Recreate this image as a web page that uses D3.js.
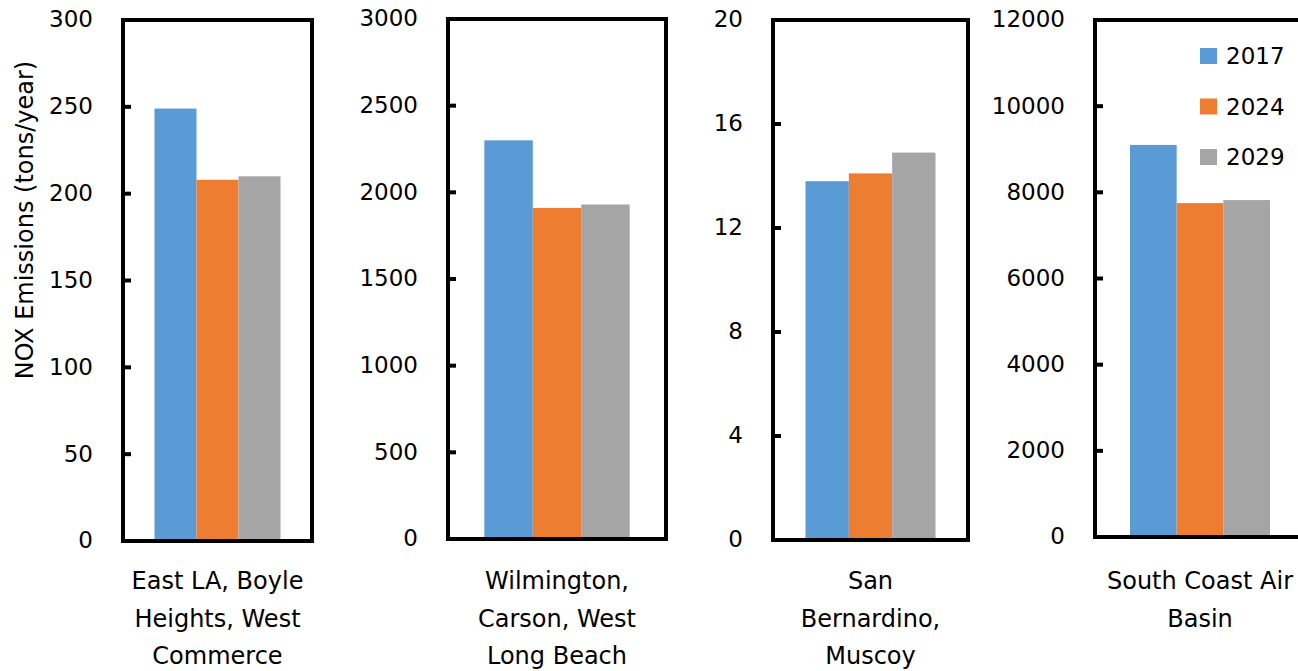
<!DOCTYPE html>
<html>
<head>
<meta charset="utf-8">
<script src="https://cdn.jsdelivr.net/npm/d3@7"></script>
<style>
  html, body { margin: 0; padding: 0; background: #fff; }
  svg { display: block; }
  text { font-family: "DejaVu Sans", sans-serif; fill: #000; }
</style>
</head>
<body>
<svg id="chart" width="1298" height="671"></svg>
<script>
// ---- data ----
const seriesNames = ["2017", "2024", "2029"];
const seriesColors = ["#5B9BD5", "#ED7D31", "#A5A5A5"];
const regionLabels = [
  ["East LA, Boyle", "Heights, West", "Commerce"],
  ["Wilmington,", "Carson, West", "Long Beach"],
  ["San", "Bernardino,", "Muscoy"],
  ["South Coast Air", "Basin"]
];
const values2017 = [249, 2300, 13.8, 9100];
const values2024 = [208, 1910, 14.1, 7750];
const values2029 = [210, 1930, 14.9, 7820];
const yMaxima = [300, 3000, 20, 12000];
const tickValues1 = [0, 50, 100, 150, 200, 250, 300];
const tickValues2 = [0, 500, 1000, 1500, 2000, 2500, 3000];
const tickValues3 = [0, 4, 8, 12, 16, 20];
const tickValues4 = [0, 2000, 4000, 6000, 8000, 10000, 12000];
const yTitle = "NOX Emissions (tons/year)";

// ---- layout ----
const panelLeft = [123, 448, 773, 1095];
const panelRight = [312, 666, 968, 1305];
const panelTop = [20, 19, 20, 20];
const panelBottom = [541, 539, 540, 537];
const tickSets = [tickValues1, tickValues2, tickValues3, tickValues4];
const seriesValues = [values2017, values2024, values2029];

const svg = d3.select("#chart");

regionLabels.forEach((lines, i) => {
  const g = svg.append("g");
  const x = d3.scaleBand().domain([i]).range([panelLeft[i], panelRight[i]]).padding(0.2);
  const xs = d3.scaleBand().domain(seriesNames).range([0, x.bandwidth()]).padding(0);
  const y = d3.scaleLinear().domain([0, yMaxima[i]]).range([panelBottom[i], panelTop[i]]);

  // bars
  g.selectAll("rect.bar")
    .data(seriesNames.map((s, k) => ({ s, v: seriesValues[k][i], c: seriesColors[k] })))
    .join("rect")
    .attr("class", "bar")
    .attr("x", d => x(i) + xs(d.s))
    .attr("y", d => y(d.v))
    .attr("width", xs.bandwidth())
    .attr("height", d => y(0) - y(d.v))
    .attr("fill", d => d.c);

  // y axis
  const axis = d3.axisLeft(y)
    .tickValues(tickSets[i])
    .tickFormat(d3.format("d"))
    .tickSizeInner(-8)
    .tickSizeOuter(0)
    .tickPadding(30)
    .offset(0);
  const ag = g.append("g").attr("transform", `translate(${panelLeft[i]},0)`).call(axis);
  ag.select(".domain").remove();
  ag.selectAll(".tick line")
    .attr("stroke", "#000").attr("stroke-width", 4)
    .attr("display", d => (d === 0 || d === yMaxima[i]) ? "none" : null);
  ag.selectAll(".tick text")
    .style("font-family", "DejaVu Sans, sans-serif")
    .style("font-size", "23px")
    .attr("fill", "#000");

  // frame
  g.append("rect")
    .attr("x", panelLeft[i])
    .attr("y", panelTop[i])
    .attr("width", panelRight[i] - panelLeft[i])
    .attr("height", panelBottom[i] - panelTop[i])
    .attr("fill", "none")
    .attr("stroke", "#000")
    .attr("stroke-width", 4);

  // category label
  const cx = x(i) + x.bandwidth() / 2;
  const t = g.append("text")
    .attr("text-anchor", "middle")
    .style("font-size", "24px");
  lines.forEach((ln, j) => {
    t.append("tspan").attr("x", cx).attr("y", 589 + j * 37.5).text(ln);
  });
});

// y title
svg.append("text")
  .attr("transform", "translate(33,220) rotate(-90)")
  .attr("text-anchor", "middle")
  .style("font-size", "24px")
  .text(yTitle);

// legend
const leg = svg.append("g");
seriesNames.forEach((s, k) => {
  const cy = 56 + k * 50.5;
  leg.append("rect")
    .attr("x", 1200).attr("y", cy - 8)
    .attr("width", 17).attr("height", 16)
    .attr("fill", seriesColors[k]);
  leg.append("text")
    .attr("x", 1226).attr("y", cy)
    .attr("dy", "0.36em")
    .style("font-size", "23px")
    .text(s);
});
</script>
</body>
</html>
